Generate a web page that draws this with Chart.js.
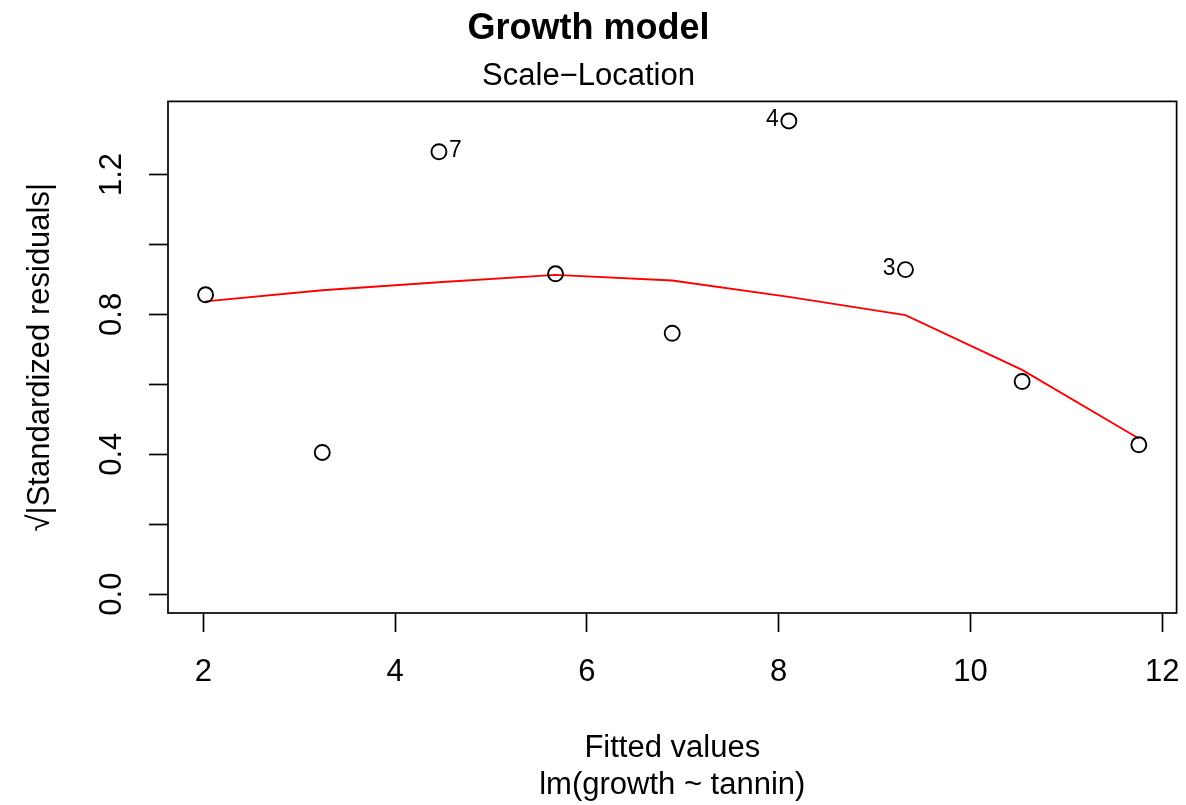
<!DOCTYPE html>
<html>
<head>
<meta charset="utf-8">
<script src="https://cdn.jsdelivr.net/npm/chart.js@4/dist/chart.umd.min.js"></script>
<style>
  body { margin: 0; background: #fff; }
  #wrap { width: 1186px; height: 805px; }
</style>
</head>
<body>
<div id="wrap"><canvas id="graficoEscala" width="1186" height="805"></canvas></div>
<script>
// ======== DADOS =========
const fittedValues = [11.756, 10.539, 9.322, 8.106, 6.889, 5.672, 4.456, 3.239, 2.022];
const sqrtStdResid = [0.427, 0.608, 0.928, 1.353, 0.746, 0.916, 1.265, 0.405, 0.856];
const smoothX = [2.022, 3.239, 4.456, 5.672, 6.889, 8.106, 9.322, 10.539, 11.756];
const smoothY = [0.837, 0.869, 0.892, 0.913, 0.897, 0.850, 0.798, 0.641, 0.445];
const idObs = [7, 4, 3];          // observações marcadas
const xTicks = [2, 4, 6, 8, 10, 12];
const yTicks = [0.0, 0.4, 0.8, 1.2];

const FONTE = 'Liberation Sans, Arial, Helvetica, sans-serif';
Chart.defaults.font.family = FONTE;
Chart.defaults.color = '#000';

// ======== PLUGINS =========
const caixa = {
  id: 'caixa',
  afterDraw(chart) {
    const a = chart.chartArea, c = chart.ctx;
    c.save();
    c.strokeStyle = '#000';
    c.lineWidth = 1.7;
    c.strokeRect(a.left, a.top, a.right - a.left, a.bottom - a.top);
    c.restore();
  }
};

const rotulosId = {
  id: 'rotulosId',
  afterDatasetsDraw(chart) {
    const c = chart.ctx, sx = chart.scales.x, sy = chart.scales.y;
    const meio = (sx.min + sx.max) / 2;
    c.save();
    c.font = '23px ' + FONTE;
    c.fillStyle = '#000';
    c.textBaseline = 'middle';
    idObs.forEach(n => {
      const xv = fittedValues[n - 1], yv = sqrtStdResid[n - 1];
      const px = sx.getPixelForValue(xv), py = sy.getPixelForValue(yv);
      if (xv > meio) {
        c.textAlign = 'right';
        c.fillText(String(n), px - 10, py - 1);
      } else {
        c.textAlign = 'left';
        c.fillText(String(n), px + 10, py - 1);
      }
    });
    c.restore();
  }
};

// ======== GRÁFICO =========
const ctx = document.getElementById('graficoEscala');
new Chart(ctx, {
  type: 'scatter',
  data: {
    datasets: [
      {
        label: 'residuos',
        data: fittedValues.map((x, i) => ({ x: x, y: sqrtStdResid[i] })),
        pointStyle: 'circle',
        pointRadius: 7.5,
        pointBorderWidth: 1.9,
        borderColor: '#000',
        backgroundColor: 'rgba(0,0,0,0)',
        showLine: false
      },
      {
        label: 'suavizado',
        data: smoothX.map((x, i) => ({ x: x, y: smoothY[i] })),
        borderColor: '#ff0000',
        borderWidth: 1.9,
        pointRadius: 0,
        showLine: true,
        tension: 0,
        fill: false
      }
    ]
  },
  options: {
    responsive: false,
    animation: false,
    layout: { padding: { left: 0, right: 9, top: 0, bottom: 0 } },
    plugins: {
      legend: { display: false },
      tooltip: { enabled: false },
      title: {
        display: true,
        text: 'Growth model',
        color: '#000',
        font: { size: 36, weight: 'bold', lineHeight: 1.2 },
        padding: { top: 7, bottom: 0 }
      },
      subtitle: {
        display: true,
        text: 'Scale\u2212Location',
        color: '#000',
        font: { size: 31, lineHeight: 1.2 },
        padding: { top: 8, bottom: 6 }
      }
    },
    scales: {
      x: {
        type: 'linear',
        min: 1.63,
        max: 12.15,
        afterFit(s) { s.height = 192; s.paddingLeft = 0; s.paddingRight = 0; },
        afterBuildTicks(s) { s.ticks = xTicks.map(v => ({ value: v })); },
        grid: { drawOnChartArea: false, tickLength: 19, tickWidth: 1.7, tickColor: '#000' },
        border: { display: false },
        ticks: {
          font: { size: 31 },
          color: '#000',
          padding: 22,
          maxRotation: 0,
          callback: v => String(v)
        },
        title: {
          display: true,
          text: ['Fitted values', 'lm(growth ~ tannin)'],
          color: '#000',
          font: { size: 31, lineHeight: 1.2 },
          padding: { top: 0, bottom: 1 }
        }
      },
      y: {
        type: 'linear',
        min: -0.054,
        max: 1.409,
        afterFit(s) { s.width = 168; s.paddingTop = 0; s.paddingBottom = 0; },
        afterBuildTicks(s) {
          const t = [];
          for (let i = 0; i <= 6; i++) t.push({ value: Math.round(i * 2) / 10 });
          s.ticks = t;
        },
        grid: { drawOnChartArea: false, tickLength: 19, tickWidth: 1.7, tickColor: '#000' },
        border: { display: false },
        ticks: {
          font: { size: 31 },
          color: '#000',
          padding: 15,
          minRotation: 90,
          maxRotation: 90,
          crossAlign: 'center',
          callback: v => yTicks.some(t => Math.abs(t - v) < 1e-6) ? v.toFixed(1) : ''
        },
        title: {
          display: true,
          text: '\u221A|Standardized residuals|',
          color: '#000',
          font: { size: 31, lineHeight: 1.2 },
          padding: { top: 22, bottom: 0 }
        }
      }
    }
  },
  plugins: [caixa, rotulosId]
});
</script>
</body>
</html>
